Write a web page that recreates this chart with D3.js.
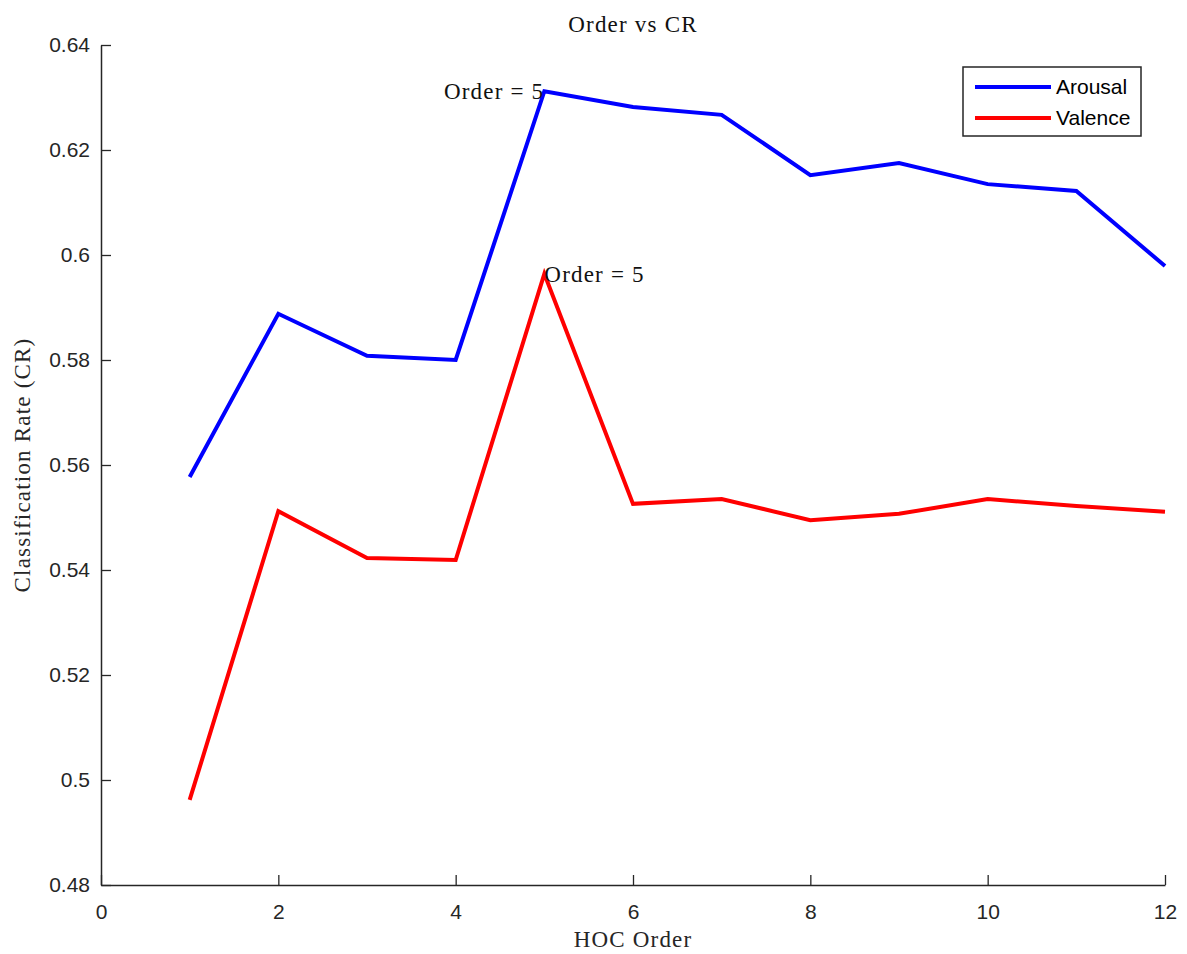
<!DOCTYPE html>
<html>
<head>
<meta charset="utf-8">
<script src="https://cdn.jsdelivr.net/npm/d3@7"></script>
<style>
  body { margin: 0; background: #fff; }
  svg { display: block; }
</style>
</head>
<body>
<script>
// HOC order vs classification rate
const orders = [1, 2, 3, 4, 5, 6, 7, 8, 9, 10, 11, 12];
const arousal = [0.5577, 0.5888, 0.5808, 0.5800, 0.6312, 0.6282, 0.6267, 0.6152, 0.6175, 0.6135, 0.6122, 0.5979];
const valence = [0.4962, 0.5512, 0.5423, 0.5419, 0.5964, 0.5526, 0.5535, 0.5495, 0.5507, 0.5535, 0.5522, 0.5511];
const xTicks = [0, 2, 4, 6, 8, 10, 12];
const yTicks = [0.48, 0.5, 0.52, 0.54, 0.56, 0.58, 0.6, 0.62, 0.64];
const seriesNames = ["Arousal", "Valence"];
const seriesColors = ["#0000ff", "#ff0000"];
const peakLabel = "Order = 5";

const W = 1187, H = 954;
const margin = { left: 101, right: 22, top: 45, bottom: 69 };

const svg = d3.select("body").append("svg").attr("width", W).attr("height", H);

const x = d3.scaleLinear().domain([0, 12]).range([margin.left, W - margin.right]);
const y = d3.scaleLinear().domain([0.48, 0.64]).range([H - margin.bottom, margin.top]);

const sans = "'Liberation Sans', Arial, sans-serif";
const serif = "'Liberation Serif', 'DejaVu Serif', serif";
const serifText = sel => sel.style("font-family", serif).style("font-size", "23px")
  .style("letter-spacing", "1.2px");

// axes (ticks point inward)
const xAxis = svg.append("g")
  .attr("transform", `translate(0,${y(0.48)})`)
  .call(d3.axisBottom(x).tickValues(xTicks).tickSizeInner(-10).tickSizeOuter(0).tickPadding(19).tickFormat(d3.format("d")));
const yAxis = svg.append("g")
  .attr("transform", `translate(${x(0)},0)`)
  .call(d3.axisLeft(y).tickValues(yTicks).tickSizeInner(-10).tickSizeOuter(0).tickPadding(11)
    .tickFormat(d => String(+d.toFixed(2))));

[xAxis, yAxis].forEach(g => {
  g.select(".domain").attr("stroke", "#262626").attr("stroke-width", 1.5);
  g.selectAll(".tick line").attr("stroke", "#262626").attr("stroke-width", 1.3);
  g.selectAll(".tick text").attr("fill", "#262626").style("font-family", sans).style("font-size", "21px");
});

// lines
const line = d3.line().x((d, i) => x(orders[i])).y(d => y(d));
[arousal, valence].forEach((vals, k) => {
  svg.append("path")
    .datum(vals)
    .attr("fill", "none")
    .attr("stroke", seriesColors[k])
    .attr("stroke-width", 4)
    .attr("stroke-linejoin", "miter")
    .attr("d", line);
});

// peak annotations
const pk = orders.indexOf(5);
svg.append("text")
  .attr("x", x(5)).attr("y", y(arousal[pk]))
  .attr("text-anchor", "end").attr("dy", "0.35em")
  .attr("fill", "#111").call(serifText)
  .text(peakLabel);
svg.append("text")
  .attr("x", x(5)).attr("y", y(valence[pk]))
  .attr("text-anchor", "start").attr("dy", "0.35em")
  .attr("fill", "#111").call(serifText)
  .text(peakLabel);

// title and axis labels
svg.append("text")
  .attr("x", (x(0) + x(12)) / 2).attr("y", 32)
  .attr("text-anchor", "middle").attr("fill", "#111").call(serifText)
  .text("Order vs CR");
svg.append("text")
  .attr("x", (x(0) + x(12)) / 2).attr("y", 947)
  .attr("text-anchor", "middle").attr("fill", "#262626").call(serifText)
  .text("HOC Order");
svg.append("text")
  .attr("transform", `translate(30,${(y(0.48) + y(0.64)) / 2}) rotate(-90)`)
  .attr("text-anchor", "middle").attr("fill", "#262626").call(serifText)
  .text("Classification Rate (CR)");

// legend
const lg = svg.append("g").attr("transform", "translate(963,67)");
lg.append("rect").attr("width", 178).attr("height", 69)
  .attr("fill", "#fff").attr("stroke", "#262626").attr("stroke-width", 1.5);
seriesNames.forEach((name, i) => {
  const ly = 20 + i * 31;
  lg.append("line").attr("x1", 12).attr("x2", 88).attr("y1", ly).attr("y2", ly)
    .attr("stroke", seriesColors[i]).attr("stroke-width", 4);
  lg.append("text").attr("x", 93).attr("y", ly).attr("dy", "0.35em")
    .style("font-family", sans).style("font-size", "21px").attr("fill", "#000")
    .text(name);
});
</script>
</body>
</html>
